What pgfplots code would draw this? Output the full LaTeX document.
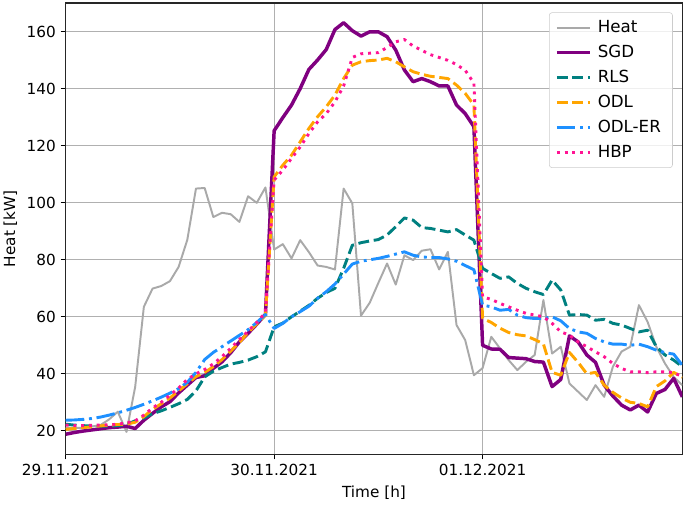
\documentclass[border=0pt]{standalone}
\usepackage{fontspec}
\setmainfont{DejaVu Sans}
\usepackage{pgfplots}
\usepackage{pgfplotstable}
\pgfplotsset{compat=1.18}
\definecolor{cheat}{HTML}{A9A9A9}
\definecolor{csgd}{HTML}{800080}
\definecolor{crls}{HTML}{008080}
\definecolor{codl}{HTML}{FFA500}
\definecolor{codler}{HTML}{1E90FF}
\definecolor{chbp}{HTML}{FF1493}
\definecolor{cgrid}{HTML}{B0B0B0}

% hourly values, h = hours since 29.11.2021 00:00
\pgfplotstableread{
h  heat  sgd   rls   odl   odler hbp
0  21.0  18.8  22.3  20.5  23.7  22.0
1  21.0  19.4  22.0  20.8  23.8  21.8
2  21.0  19.9  21.8  21.1  24.0  21.8
3  21.5  20.3  21.7  21.4  24.3  21.9
4  22.0  20.7  21.6  21.7  24.8  22.0
5  24.0  21.1  21.6  22.0  25.5  22.1
6  26.7  21.3  21.8  22.2  26.3  22.3
7  19.6  21.6  22.2  22.3  27.2  22.8
8  35.4  20.8  23.5  23.0  28.2  23.5
9  63.5  23.7  24.5  25.0  29.3  25.5
10 69.9  26.1  26.0  27.5  30.5  28.0
11 70.8  28.4  27.0  29.5  31.8  30.0
12 72.5  30.2  28.2  31.5  33.2  32.5
13 77.5  33.3  29.5  34.0  34.8  35.0
14 87.0  36.0  31.0  36.5  37.0  38.0
15 105.0 38.7  34.0  39.0  40.5  40.0
16 105.2 39.3  38.9  40.5  45.0  41.5
17 95.0  41.9  40.9  42.5  47.5  43.5
18 96.5  44.2  42.2  45.0  49.5  46.0
19 96.0  47.4  43.4  48.0  51.5  49.0
20 93.3  51.2  44.0  51.0  53.5  52.0
21 102.3 54.2  44.8  54.5  55.5  55.0
22 100.0 57.4  46.0  57.5  58.0  58.0
23 105.4 60.9  47.7  60.5  60.8  61.5
24 83.6  125.3 56.5  109.1 55.9  108.0
25 85.5  129.9 57.8  113.2 57.7  111.5
26 80.5  134.3 60.0  116.7 60.0  115.6
27 86.9  140.1 62.0  121.4 61.8  119.6
28 82.7  146.8 64.0  126.1 63.7  124.3
29 78.0  150.1 66.5  130.2 66.5  128.4
30 77.5  153.8 68.5  133.7 68.8  131.3
31 76.6  160.8 70.0  137.8 71.5  135.4
32 105.0 163.2 77.0  143.6 75.0  141.0
33 99.8  160.4 85.1  148.3 78.5  151.0
34 60.4  158.5 86.0  149.5 79.5  152.3
35 64.9  160.0 86.6  149.9 80.0  152.5
36 71.9  160.0 87.1  150.1 80.5  152.7
37 78.7  158.3 88.7  150.7 81.2  154.5
38 71.3  153.6 91.6  149.5 82.0  156.5
39 81.6  146.6 94.7  147.7 82.8  157.3
40 79.9  142.5 93.9  146.0 81.6  155.0
41 83.2  143.6 91.3  145.1 81.0  153.5
42 83.7  142.5 91.0  144.4 80.8  152.0
43 76.6  141.0 90.4  144.0 80.8  151.0
44 82.8  141.0 89.8  143.6 80.3  150.0
45 57.1  134.3 90.6  141.3 79.5  148.5
46 51.8  131.3 88.7  138.4 78.0  146.5
47 39.5  126.7 86.9  134.3 76.5  142.0
48 42.0  50.0  77.0  59.5  64.1  67.0
49 53.0  48.7  75.2  58.0  63.5  66.1
50 48.9  48.6  73.5  56.0  62.3  64.7
51 44.8  45.7  74.0  54.5  62.6  63.5
52 41.3  45.5  71.7  53.7  60.6  62.3
53 44.2  45.3  70.0  53.3  59.7  61.2
54 46.6  44.3  68.8  52.0  59.4  60.6
55 65.9  44.1  67.8  50.5  59.4  60.0
56 47.1  35.5  72.9  40.5  60.0  57.7
57 49.5  38.0  69.4  39.5  58.6  54.7
58 36.6  53.3  60.6  47.5  55.9  53.6
59 33.7  51.2  60.8  44.0  54.7  51.2
60 30.8  46.6  60.6  40.0  54.2  49.5
61 36.0  44.0  58.8  40.5  52.4  47.7
62 31.9  36.0  59.1  36.0  51.2  46.0
63 42.5  32.2  57.7  33.5  50.4  43.6
64 47.8  29.0  57.1  31.5  50.4  41.9
65 49.5  27.3  55.9  30.0  50.0  40.7
66 64.1  29.0  54.7  29.6  50.4  40.7
67 58.2  26.6  55.3  28.4  49.5  40.4
68 49.5  33.1  49.5  35.5  48.3  40.7
69 43.6  34.5  46.6  37.5  47.4  40.7
70 38.9  38.4  44.8  40.5  46.9  40.4
71 36.0  31.9  42.5  38.8  43.0  39.0
}\datatable

\begin{document}
\begin{tikzpicture}
\begin{axis}[
  scale only axis,
  width=444pt, height=325pt,
  xmin=0, xmax=71,
  ymin=11.7, ymax=170.1,
  xtick={0,24,48},
  xticklabels={29.11.2021,30.11.2021,01.12.2021},
  ytick={20,40,...,160},
  tick pos=left,
  tick align=outside,
  major tick length=3.6pt,
  tick style={black, line width=0.6pt},
  axis line style={black!85, line width=0.8pt},
  grid=major,
  grid style={cgrid, line width=0.6pt},
  /pgf/number format/assume math mode=true,
  tick label style={font=\fontsize{11}{13}\selectfont},
  label style={font=\fontsize{11}{13}\selectfont},
  xlabel={Time [h]},
  ylabel={Heat [kW]},
  legend image code/.code={\draw[#1] (0pt,0pt) -- (24pt,0pt);},
  legend cell align=left,
  legend style={at={(1,1)}, anchor=north east, xshift=-6.9pt, yshift=-6.7pt,
    draw=black!20, rounded corners=2pt, fill=white, fill opacity=0.8,
    text opacity=1, draw opacity=1, font=\fontsize{12}{14}\selectfont,
    nodes={font=\fontsize{12}{14}\selectfont, text height=9pt, text depth=2.6pt,
      inner xsep=4.2pt, inner ysep=1pt},
    row sep=4.4pt, inner xsep=4.2pt, inner ysep=4pt},
  every axis plot/.append style={line join=round},
]
\addplot[cheat, line width=1.4pt] table[x=h, y=heat] {\datatable};
\addlegendentry{Heat}
\addplot[csgd, line width=2.5pt] table[x=h, y=sgd] {\datatable};
\addlegendentry{SGD}
\addplot[crls, line width=2.1pt, dash pattern=on 7.8pt off 3.4pt] table[x=h, y=rls] {\datatable};
\addlegendentry{RLS}
\addplot[codl, line width=2.1pt, dash pattern=on 7.8pt off 3.4pt] table[x=h, y=odl] {\datatable};
\addlegendentry{ODL}
\addplot[codler, line width=2.1pt, dash pattern=on 13.4pt off 3.4pt on 2.1pt off 3.4pt] table[x=h, y=odler] {\datatable};
\addlegendentry{ODL-ER}
\addplot[chbp, line width=2.1pt, dash pattern=on 2.1pt off 3.5pt] table[x=h, y=hbp] {\datatable};
\addlegendentry{HBP}
\end{axis}
\pgfresetboundingbox
\path ([shift={(-47.3pt,-35.8pt)}]current axis.south west) rectangle ([shift={(1.9pt,2.2pt)}]current axis.north east);
\end{tikzpicture}
\end{document}
